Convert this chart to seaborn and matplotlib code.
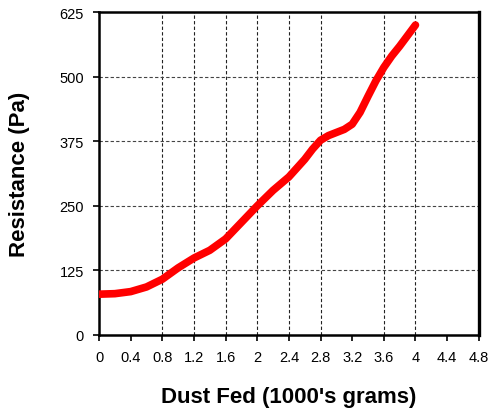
import numpy as np
import pandas as pd
import matplotlib.pyplot as plt
import seaborn as sns

# values
dust_fed = [0.0, 0.2, 0.4, 0.6, 0.8, 1.0, 1.2, 1.4, 1.6, 1.8, 2.0,
            2.2, 2.4, 2.6, 2.7, 2.8, 2.9, 3.0, 3.1, 3.2, 3.3, 3.4, 3.5,
            3.6, 3.7, 3.8, 4.0]
resistance = [79, 80, 84, 93, 108, 130, 149, 164, 186, 218, 250,
              280, 306, 340, 360, 377, 386, 392, 398, 408, 431, 462, 492,
              518, 540, 559, 600]

x_ticks = [0, 0.4, 0.8, 1.2, 1.6, 2, 2.4, 2.8, 3.2, 3.6, 4, 4.4, 4.8]
x_labels = ['0', '0.4', '0.8', '1.2', '1.6', '2', '2.4', '2.8', '3.2', '3.6', '4', '4.4', '4.8']
y_ticks = [0, 125, 250, 375, 500, 625]
x_grid = [0.8, 1.2, 1.6, 2.0, 2.4, 2.8, 3.6, 4.0]
y_grid = [125, 250, 375, 500]

df = pd.DataFrame({'dust': dust_fed, 'res': resistance})

sns.set_style('white')
plt.rcParams['font.family'] = ['Liberation Sans', 'DejaVu Sans']
plt.rcParams['text.color'] = 'black'
plt.rcParams['axes.labelcolor'] = 'black'
plt.rcParams['xtick.color'] = 'black'
plt.rcParams['ytick.color'] = 'black'

fig = plt.figure(figsize=(4.88, 4.10), dpi=100)
ax = fig.add_axes([0.203, 0.1805, 0.778, 0.7875])

for gx in x_grid:
    ax.axvline(gx, color='#222222', linewidth=0.8, linestyle=(0, (3, 2)), zorder=1)
for gy in y_grid:
    ax.axhline(gy, color='#444444', linewidth=0.8, linestyle=(0, (3, 2)), zorder=1)

sns.lineplot(data=df, x='dust', y='res', ax=ax, color='#ff0000', linewidth=5.5,
             solid_capstyle='round', solid_joinstyle='round', zorder=3)

ax.set_xlim(0, 4.8)
ax.set_ylim(0, 625)
ax.set_xticks(x_ticks)
ax.set_xticklabels(x_labels)
ax.set_yticks(y_ticks)
ax.tick_params(axis='both', which='major', direction='out', length=4, width=1.2,
               colors='black', labelsize=10.5, pad=7, bottom=True, left=True)

for side in ['left', 'bottom', 'top', 'right']:
    ax.spines[side].set_visible(True)
    ax.spines[side].set_color('black')
    ax.spines[side].set_linewidth(1.8)
ax.spines['right'].set_linewidth(2.4)

ax.set_xlabel("Dust Fed (1000's grams)", fontsize=16, fontweight='bold', labelpad=16, color='black')
ax.set_ylabel('Resistance (Pa)', fontsize=16, fontweight='bold', labelpad=21, color='black')

plt.savefig('out.png', dpi=100)
